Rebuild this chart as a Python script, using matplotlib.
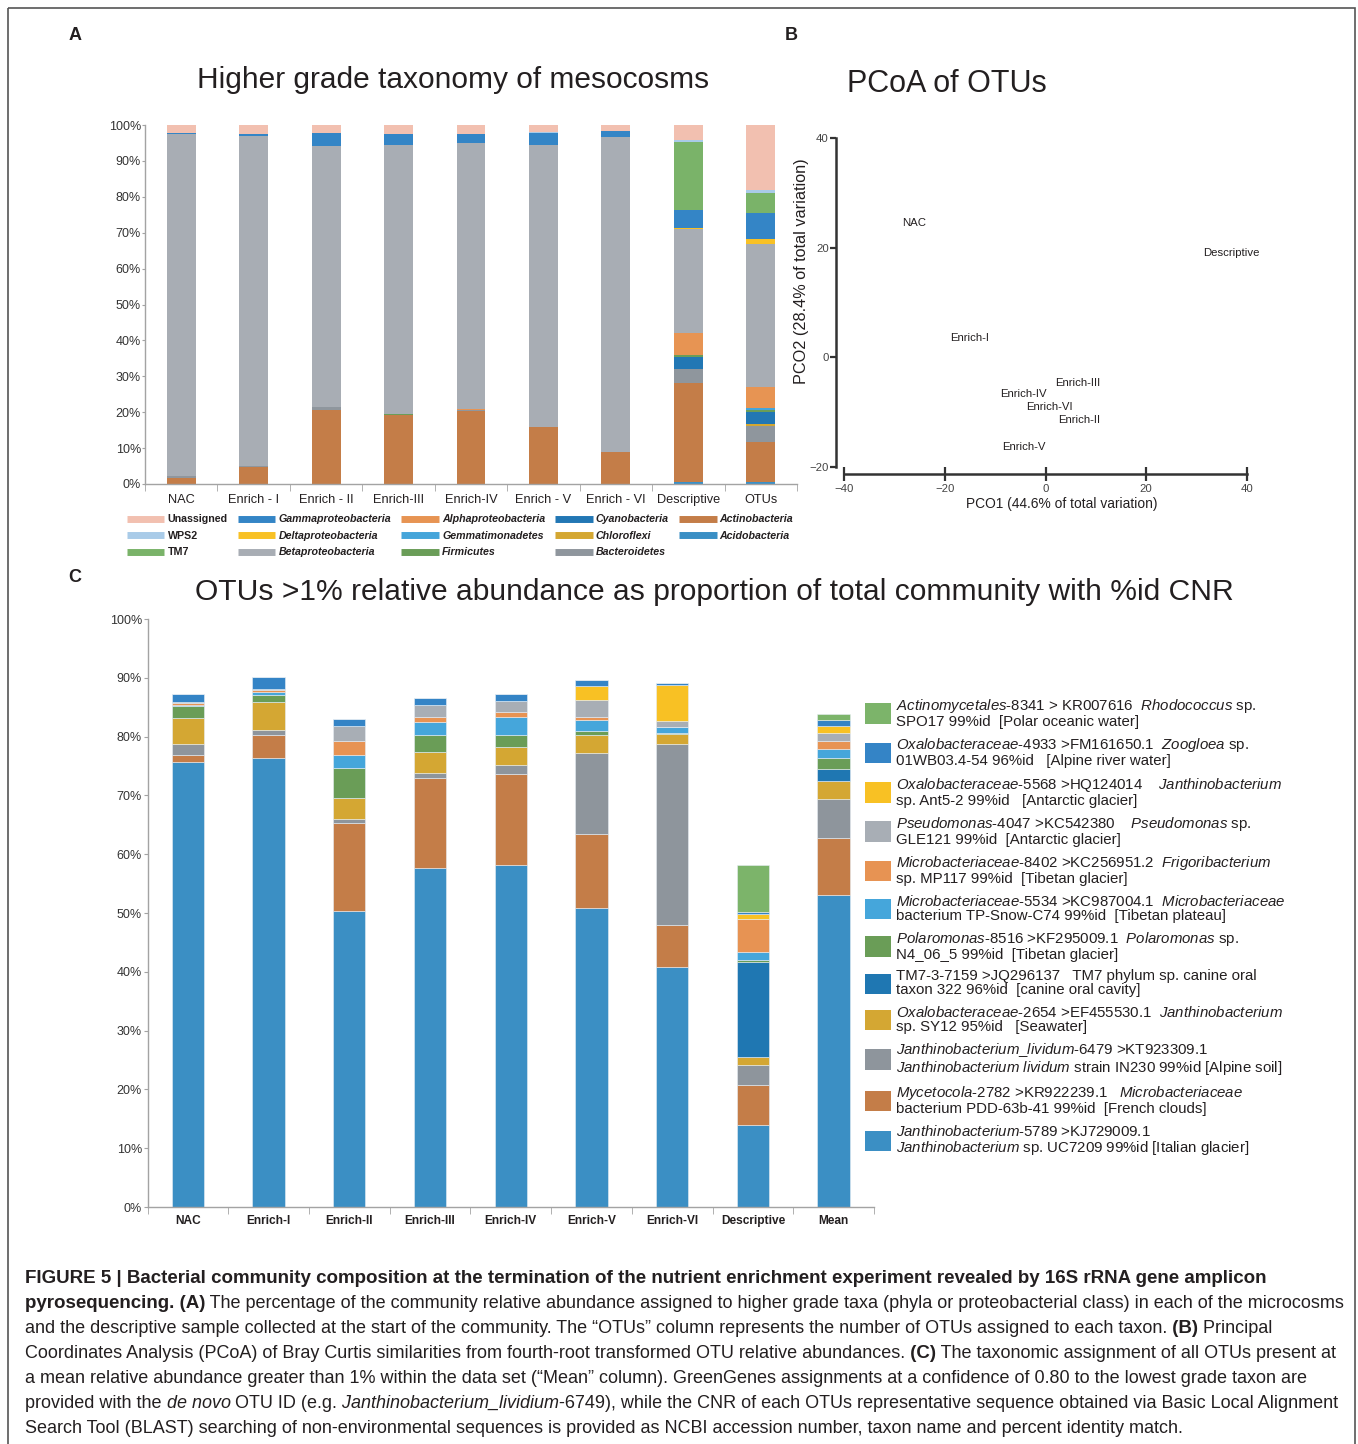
import numpy as np
import matplotlib
matplotlib.use('Agg')
import matplotlib.pyplot as plt
from matplotlib.lines import Line2D
from matplotlib.patches import Patch, Rectangle

plt.rcParams['font.family'] = ['Liberation Sans', 'DejaVu Sans']
plt.rcParams['mathtext.fontset'] = 'custom'
plt.rcParams['mathtext.rm'] = 'Liberation Sans'
plt.rcParams['mathtext.it'] = 'Liberation Sans:italic'
plt.rcParams['mathtext.bf'] = 'Liberation Sans:bold'

W, H = 1358, 1444
TXT = '#231F20'
AX_GRAY = '#A3A3A3'

# ---------------- 数据: A 高级分类 (%) ----------------
samples_a = ['NAC', 'Enrich - I', 'Enrich - II', 'Enrich-III', 'Enrich-IV',
             'Enrich - V', 'Enrich - VI', 'Descriptive', 'OTUs']
taxa_a = ['Acidobacteria', 'Actinobacteria', 'Bacteroidetes', 'Chloroflexi',
          'Cyanobacteria', 'Firmicutes', 'Gemmatimonadetes', 'Alphaproteobacteria',
          'Betaproteobacteria', 'Deltaproteobacteria', 'Gammaproteobacteria',
          'TM7', 'WPS2', 'Unassigned']
colors_a = ['#3A8FC5', '#C47D48', '#8F969D', '#D4A732', '#2277B4', '#6A9D58',
            '#45A5DA', '#E79453', '#A8ADB4', '#F8C125', '#3485C6', '#7AB369',
            '#A9CBE8', '#F2C0B0']
acidobacteria = [0, 0, 0, 0, 0, 0, 0, 0.5, 0.5]
actinobacteria = [1.8, 4.65, 20.65, 19.1, 20.2, 15.8, 8.8, 27.6, 11.1]
bacteroidetes = [0.3, 0.45, 0.75, 0.25, 0.4, 0, 0.2, 3.8, 4.5]
chloroflexi = [0, 0, 0, 0, 0, 0, 0, 0, 0.6]
cyanobacteria = [0, 0, 0, 0, 0, 0, 0, 3.4, 3.3]
firmicutes = [0, 0, 0, 0.1, 0, 0, 0, 0.5, 0.7]
gemmatimonadetes = [0, 0, 0, 0, 0, 0, 0, 0, 0.4]
alphaproteo = [0, 0, 0, 0, 0.3, 0.1, 0, 6.2, 5.9]
betaproteo = [95.3, 91.9, 72.7, 74.95, 74.0, 78.5, 87.7, 29.0, 39.8]
deltaproteo = [0, 0, 0, 0, 0, 0, 0, 0.2, 1.4]
gammaproteo = [0.3, 0.5, 3.6, 3.1, 2.5, 3.5, 1.6, 5.1, 7.3]
tm7 = [0, 0, 0, 0, 0, 0, 0, 18.9, 5.6]
wps2 = [0.1, 0.1, 0.1, 0, 0, 0.2, 0, 0.6, 0.8]
unassigned = [2.2, 2.4, 2.2, 2.5, 2.6, 1.9, 1.7, 4.2, 18.1]
values_a = [acidobacteria, actinobacteria, bacteroidetes, chloroflexi, cyanobacteria,
            firmicutes, gemmatimonadetes, alphaproteo, betaproteo, deltaproteo,
            gammaproteo, tm7, wps2, unassigned]
# 图例顺序（按列）
legend_order_a = ['Unassigned', 'WPS2', 'TM7', 'Gammaproteobacteria', 'Deltaproteobacteria',
                  'Betaproteobacteria', 'Alphaproteobacteria', 'Gemmatimonadetes', 'Firmicutes',
                  'Cyanobacteria', 'Chloroflexi', 'Bacteroidetes', 'Actinobacteria', 'Acidobacteria']

# ---------------- 数据: B PCoA ----------------
pcoa_labels = ['NAC', 'Descriptive', 'Enrich-I', 'Enrich-III', 'Enrich-IV',
               'Enrich-VI', 'Enrich-II', 'Enrich-V']
pco1 = [-26.0, 36.8, -15.1, 6.4, -4.4, 0.7, 6.7, -4.2]
pco2 = [24.5, 19.1, 3.5, -4.6, -6.6, -9.0, -11.4, -16.4]

# ---------------- 数据: C OTUs >1% ----------------
samples_c = ['NAC', 'Enrich-I', 'Enrich-II', 'Enrich-III', 'Enrich-IV', 'Enrich-V',
             'Enrich-VI', 'Descriptive', 'Mean']
colors_c = ['#3B8FC4', '#C47D48', '#8E959C', '#D4A733', '#1F77B2', '#6A9D57',
            '#45A6DB', '#E79353', '#A8AEB5', '#F8C124', '#3484C6', '#7CB46A']
janth_5789 = [75.7, 76.4, 50.4, 57.7, 58.2, 50.8, 40.8, 14.0, 53.1]
myceto_2782 = [1.2, 3.8, 14.9, 15.2, 15.5, 12.7, 7.1, 6.8, 9.6]
jliv_6479 = [1.9, 1.0, 0.7, 0.9, 1.4, 13.7, 30.9, 3.4, 6.7]
oxalo_2654 = [4.3, 4.6, 3.5, 3.6, 3.1, 3.1, 1.6, 1.3, 3.1]
tm7_7159 = [0, 0, 0, 0, 0, 0, 0, 16.1, 2.0]
polaro_8516 = [2.1, 1.3, 5.2, 2.9, 2.1, 0.7, 0.2, 0.4, 1.9]
microb_5534 = [0.1, 0.5, 2.1, 2.2, 3.0, 1.8, 1.0, 1.3, 1.5]
microb_8402 = [0.4, 0.3, 2.5, 0.8, 0.9, 0.6, 0, 5.7, 1.4]
pseudo_4047 = [0.1, 0.2, 2.5, 2.1, 1.9, 2.8, 1.1, 0, 1.3]
oxalo_5568 = [0, 0, 0, 0, 0, 2.4, 6.1, 0.8, 1.2]
oxalo_4933 = [1.4, 2.0, 1.2, 1.2, 1.1, 1.1, 0.3, 0.3, 1.1]
actino_8341 = [0, 0, 0, 0, 0, 0, 0, 8.0, 1.0]
values_c = [janth_5789, myceto_2782, jliv_6479, oxalo_2654, tm7_7159, polaro_8516,
            microb_5534, microb_8402, pseudo_4047, oxalo_5568, oxalo_4933, actino_8341]
labels_c = [
    r"$\mathit{Janthinobacterium}$-5789 >KJ729009.1" + "\n"
    r"$\mathit{Janthinobacterium}$ sp. UC7209 99%id [Italian glacier]",
    r"$\mathit{Mycetocola}$-2782 >KR922239.1   $\mathit{Microbacteriaceae}$" + "\n"
    "bacterium PDD-63b-41 99%id  [French clouds]",
    r"$\mathit{Janthinobacterium}$_$\mathit{lividum}$-6479 >KT923309.1" + "\n"
    r"$\mathit{Janthinobacterium}$ $\mathit{lividum}$ strain IN230 99%id [Alpine soil]",
    r"$\mathit{Oxalobacteraceae}$-2654 >EF455530.1  $\mathit{Janthinobacterium}$" + "\n"
    "sp. SY12 95%id   [Seawater]",
    "TM7-3-7159 >JQ296137   TM7 phylum sp. canine oral\n"
    "taxon 322 96%id  [canine oral cavity]",
    r"$\mathit{Polaromonas}$-8516 >KF295009.1  $\mathit{Polaromonas}$ sp." + "\n"
    "N4_06_5 99%id  [Tibetan glacier]",
    r"$\mathit{Microbacteriaceae}$-5534 >KC987004.1  $\mathit{Microbacteriaceae}$" + "\n"
    "bacterium TP-Snow-C74 99%id  [Tibetan plateau]",
    r"$\mathit{Microbacteriaceae}$-8402 >KC256951.2  $\mathit{Frigoribacterium}$" + "\n"
    "sp. MP117 99%id  [Tibetan glacier]",
    r"$\mathit{Pseudomonas}$-4047 >KC542380    $\mathit{Pseudomonas}$ sp." + "\n"
    "GLE121 99%id  [Antarctic glacier]",
    r"$\mathit{Oxalobacteraceae}$-5568 >HQ124014    $\mathit{Janthinobacterium}$" + "\n"
    "sp. Ant5-2 99%id   [Antarctic glacier]",
    r"$\mathit{Oxalobacteraceae}$-4933 >FM161650.1  $\mathit{Zoogloea}$ sp." + "\n"
    "01WB03.4-54 96%id   [Alpine river water]",
    r"$\mathit{Actinomycetales}$-8341 > KR007616  $\mathit{Rhodococcus}$ sp." + "\n"
    "SPO17 99%id  [Polar oceanic water]",
]

# ---------------- 图注 ----------------
caption_lines = [
    [("FIGURE 5 | Bacterial community composition at the termination of the nutrient "
      "enrichment experiment revealed by 16S rRNA gene amplicon", 'b')],
    [("pyrosequencing. (A)", 'b'),
     (" The percentage of the community relative abundance assigned to higher grade taxa "
      "(phyla or proteobacterial class) in each of the microcosms", 'n')],
    [("and the descriptive sample collected at the start of the community. The \u201cOTUs\u201d "
      "column represents the number of OTUs assigned to each taxon.", 'n'),
     (" (B)", 'b'), (" Principal", 'n')],
    [("Coordinates Analysis (PCoA) of Bray Curtis similarities from fourth-root transformed "
      "OTU relative abundances.", 'n'),
     (" (C)", 'b'), (" The taxonomic assignment of all OTUs present at", 'n')],
    [("a mean relative abundance greater than 1% within the data set (\u201cMean\u201d column). "
      "GreenGenes assignments at a confidence of 0.80 to the lowest grade taxon are", 'n')],
    [("provided with the", 'n'), (" de novo", 'i'), (" OTU ID (e.g.", 'n'),
     (" Janthinobacterium_lividium", 'i'),
     ("-6749), while the CNR of each OTUs representative sequence obtained via Basic "
      "Local Alignment", 'n')],
    [("Search Tool (BLAST) searching of non-environmental sequences is provided as NCBI "
      "accession number, taxon name and percent identity match.", 'n')],
]

fig = plt.figure(figsize=(W / 100, H / 100), dpi=100)


def px_axes(l, t, r, b):
    return fig.add_axes([l / W, 1 - b / H, (r - l) / W, (b - t) / H])


# 背景层：用像素坐标放置标题、字母和图注
bg = fig.add_axes([0, 0, 1, 1], zorder=-1)
bg.set_xlim(0, W)
bg.set_ylim(H, 0)
bg.axis('off')
bg.add_patch(Rectangle((8, 8), 1347, H + 20, fill=False, ec='#555555', lw=1.2))

bg.text(75, 36, 'A', fontsize=13, fontweight='bold', ha='center', va='center', color=TXT)
bg.text(791, 36, 'B', fontsize=13, fontweight='bold', ha='center', va='center', color=TXT)
bg.text(75, 578, 'C', fontsize=13, fontweight='bold', ha='center', va='center', color=TXT)
bg.text(453, 80, 'Higher grade taxonomy of mesocosms', fontsize=21.5, ha='center',
        va='center', color=TXT)
bg.text(947, 84, 'PCoA of OTUs', fontsize=22, ha='center', va='center', color=TXT)
bg.text(714, 592, 'OTUs >1% relative abundance as proportion of total community with %id CNR',
        fontsize=21.6, ha='center', va='center', color=TXT)


def style_bar_axes(ax, labels, bold, pad, tlen):
    n = len(labels)
    ax.set_xlim(-0.5, n - 0.5)
    ax.set_ylim(0, 100)
    ax.set_facecolor('none')
    for s in ['top', 'right']:
        ax.spines[s].set_visible(False)
    for s in ['left', 'bottom']:
        ax.spines[s].set_color(AX_GRAY)
        ax.spines[s].set_linewidth(1.0)
    ax.set_yticks(range(0, 101, 10))
    ax.set_yticklabels([f'{v}%' for v in range(0, 101, 10)])
    ax.set_xticks(np.arange(n))
    ax.set_xticklabels(labels, fontweight='bold' if bold else 'normal')
    ax.set_xticks(np.arange(-0.5, n), minor=True)
    ax.tick_params(axis='x', which='major', length=0, pad=pad, colors=TXT,
                   labelsize=8.6 if bold else 9.2)
    ax.tick_params(axis='x', which='minor', length=5, color=AX_GRAY)
    ax.tick_params(axis='y', length=tlen, color=AX_GRAY, labelsize=9, labelcolor='#333333', pad=1)


# ---------------- A ----------------
ax_a = px_axes(145, 125, 797, 484)
x_a = np.arange(len(samples_a))
bottom = np.zeros(len(samples_a))
for vals, col in zip(values_a, colors_a):
    ax_a.bar(x_a, vals, 0.4, bottom=bottom, color=col, linewidth=0)
    bottom += np.array(vals)
style_bar_axes(ax_a, samples_a, False, 7.5, 2)

handles_a = [Line2D([], [], color=colors_a[taxa_a.index(t)], lw=5, solid_capstyle='butt')
             for t in legend_order_a]
leg_a = fig.legend(handles_a, legend_order_a, ncol=5, loc='upper left',
                   bbox_to_anchor=(127 / W, 1 - 514.5 / H), frameon=False, fontsize=7.7,
                   handlelength=3.5, handletextpad=0.3, columnspacing=0.95,
                   labelspacing=0.6, borderpad=0, borderaxespad=0)
for t, lab in zip(leg_a.get_texts(), legend_order_a):
    t.set_fontweight('bold')
    t.set_color(TXT)
    if lab not in ('Unassigned', 'WPS2', 'TM7'):
        t.set_fontstyle('italic')

# ---------------- B ----------------
ax_b = px_axes(844, 138, 1247, 467)
ax_b.set_facecolor('none')
ax_b.set_xlim(-40, 40)
ax_b.set_ylim(-20, 40)
for lab, x, y in zip(pcoa_labels, pco1, pco2):
    ax_b.text(x, y, lab, ha='center', va='center', fontsize=8.2, color=TXT)
for s in ['top', 'right']:
    ax_b.spines[s].set_visible(False)
ax_b.spines['left'].set_position(('outward', 6))
ax_b.spines['bottom'].set_position(('outward', 5))
ax_b.spines['left'].set_bounds(-20, 40)
ax_b.spines['bottom'].set_bounds(-40, 40)
for s in ['left', 'bottom']:
    ax_b.spines[s].set_linewidth(1.8)
    ax_b.spines[s].set_color('#333333')
ax_b.set_xticks([-40, -20, 0, 20, 40])
ax_b.set_yticks([-20, 0, 20, 40])
ax_b.tick_params(axis='x', direction='inout', length=10, width=1.6, color='#333333',
                 labelsize=8.2, labelcolor='#444444', pad=2)
ax_b.tick_params(axis='y', direction='out', length=4, width=1.6, color='#333333',
                 labelsize=8.2, labelcolor='#444444', pad=1)
ax_b.set_xlabel('PCO1 (44.6% of total variation)', fontsize=9.9, color=TXT)
ax_b.set_ylabel('PCO2 (28.4% of total variation)', fontsize=11.7, color=TXT)
ax_b.xaxis.set_label_coords(0.54, -0.09)
ax_b.yaxis.set_label_coords(-0.088, 0.594)

# ---------------- C ----------------
ax_c = px_axes(147.5, 619, 874, 1207)
x_c = np.arange(len(samples_c))
bottom = np.zeros(len(samples_c))
for vals, col in zip(values_c, colors_c):
    ax_c.bar(x_c, vals, 0.4, bottom=bottom, color=col, edgecolor='#E8EEF4', linewidth=0.4)
    bottom += np.array(vals)
style_bar_axes(ax_c, samples_c, True, 6, 3)

handles_c = [Patch(facecolor=c, edgecolor='none') for c in colors_c][::-1]
leg_c = fig.legend(handles_c, labels_c[::-1], loc='upper left',
                   bbox_to_anchor=(865 / W, 1 - 697 / H), frameon=False, fontsize=10.8,
                   handlelength=1.75, handleheight=1.75, handletextpad=0.3,
                   labelspacing=0.49, borderpad=0, borderaxespad=0)
for t in leg_c.get_texts():
    t.set_linespacing(1.0)
    t.set_color(TXT)

# ---------------- 图注 ----------------
styles = {'b': dict(fontweight='bold', fontsize=13.5), 'n': dict(fontsize=13.0),
          'i': dict(fontstyle='italic', fontsize=13.0)}
base_y = 1283
for i, line in enumerate(caption_lines):
    prev = None
    for seg, st in line:
        kw = dict(color=TXT, **styles[st])
        if prev is None:
            prev = bg.text(25, base_y + 25 * i, seg, ha='left', va='baseline', **kw)
        else:
            prev = bg.annotate(seg, xy=(1, 0), xycoords=prev, ha='left', va='bottom', **kw)

fig.savefig('out.png', dpi=100)
